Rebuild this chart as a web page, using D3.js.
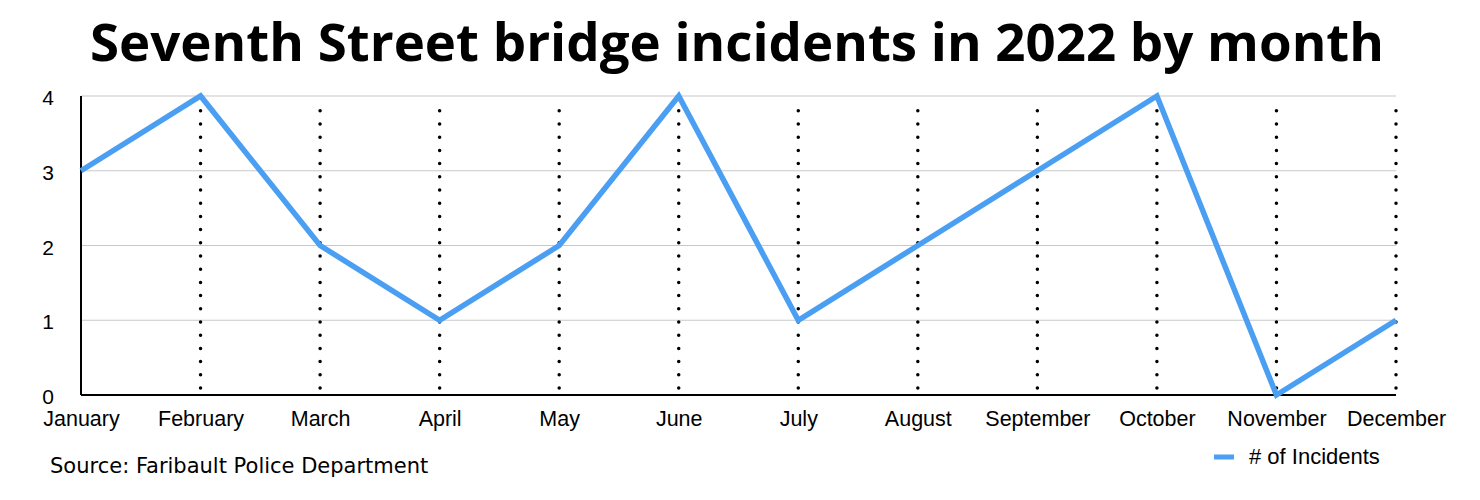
<html>
<head>
<script src="https://cdnjs.cloudflare.com/ajax/libs/d3/7.8.5/d3.min.js"></script>
  <meta charset="utf-8">
  <title>Seventh Street bridge incidents</title>
  <style>
    body { margin: 0; background: #fff; }
  </style>
</head>
<body>
	<script type="text/javascript">

		// size of the picture
		var w = 1480;
		var h = 500;
		var plotLeft = 81;
		var plotRight = 1396;
		var plotTop = 96;
		var plotBottom = 395;

		// data
		var months = ["January", "February", "March", "April", "May", "June",
			"July", "August", "September", "October", "November", "December"];
		var incidents = [3, 4, 2, 1, 2, 4, 1, 2, 3, 4, 0, 1];
		var yTicks = [0, 1, 2, 3, 4];

		var svg = d3.select("body")
					.append("svg")
					.attr("width", w)
					.attr("height", h);

		var x = d3.scalePoint()
			.domain(months)
			.range([plotLeft, plotRight]);

		var y = d3.scaleLinear()
			.domain([0, 4])
			.range([plotBottom, plotTop]);

		// title
		svg.append("text")
			.attr("x", 90)
			.attr("y", 61)
			.attr("textLength", 1294)
			.attr("lengthAdjust", "spacingAndGlyphs")
			.attr("font-family", "Open Sans, sans-serif")
			.attr("font-weight", "bold")
			.attr("font-size", "52px")
			.attr("fill", "#000")
			.text("Seventh Street bridge incidents in 2022 by month");

		// horizontal grid lines
		svg.selectAll("line.grid")
			.data(yTicks.filter(function(d) { return d > 0; }))
			.enter()
			.append("line")
			.attr("class", "grid")
			.attr("x1", plotLeft)
			.attr("x2", plotRight)
			.attr("y1", function(d) { return y(d); })
			.attr("y2", function(d) { return y(d); })
			.attr("stroke", "#c8c8c8")
			.attr("stroke-width", 1.2);

		// dotted verticals for each month after january
		svg.selectAll("line.dots")
			.data(months.slice(1))
			.enter()
			.append("line")
			.attr("class", "dots")
			.attr("x1", function(d) { return x(d); })
			.attr("x2", function(d) { return x(d); })
			.attr("y1", plotBottom - 7)
			.attr("y2", plotTop + 5)
			.attr("stroke", "#000")
			.attr("stroke-width", 3.5)
			.attr("stroke-linecap", "round")
			.attr("stroke-dasharray", "0 13.2");

		// y axis labels
		var yAxis = d3.axisLeft(y)
			.tickValues(yTicks)
			.tickFormat(d3.format("d"))
			.tickSize(0)
			.tickPadding(27);

		svg.append("g")
			.attr("transform", "translate(" + plotLeft + ",2)")
			.call(yAxis)
			.call(function(g) { g.select(".domain").remove(); })
			.selectAll("text")
			.attr("font-family", "Liberation Sans, Arial, sans-serif")
			.attr("font-size", "21px")
			.attr("fill", "#000");

		// x axis labels
		var xAxis = d3.axisBottom(x)
			.tickSize(0)
			.tickPadding(16);

		svg.append("g")
			.attr("transform", "translate(0," + plotBottom + ")")
			.call(xAxis)
			.call(function(g) { g.select(".domain").remove(); })
			.selectAll("text")
			.attr("font-family", "Liberation Sans, Arial, sans-serif")
			.attr("font-size", "21.5px")
			.attr("fill", "#000");

		// axis lines
		svg.append("line")
			.attr("x1", plotLeft)
			.attr("x2", plotLeft)
			.attr("y1", plotTop)
			.attr("y2", plotBottom)
			.attr("stroke", "#000")
			.attr("stroke-width", 2);

		svg.append("line")
			.attr("x1", plotLeft)
			.attr("x2", plotRight)
			.attr("y1", plotBottom)
			.attr("y2", plotBottom)
			.attr("stroke", "#000")
			.attr("stroke-width", 2);

		// the series
		var line = d3.line()
			.x(function(d, i) { return x(months[i]); })
			.y(function(d) { return y(d); });

		svg.append("path")
			.datum(incidents)
			.attr("d", line)
			.attr("fill", "none")
			.attr("stroke", "#4a9ff2")
			.attr("stroke-width", 5.5)
			.attr("stroke-linejoin", "miter");

		// source note
		svg.append("text")
			.attr("x", 50)
			.attr("y", 473)
			.attr("font-family", "DejaVu Sans, sans-serif")
			.attr("font-size", "21px")
			.attr("fill", "#000")
			.text("Source: Faribault Police Department");

		// legend
		svg.append("line")
			.attr("x1", 1214)
			.attr("x2", 1234)
			.attr("y1", 457)
			.attr("y2", 457)
			.attr("stroke", "#4a9ff2")
			.attr("stroke-width", 5);

		svg.append("text")
			.attr("x", 1249)
			.attr("y", 464)
			.attr("font-family", "Liberation Sans, Arial, sans-serif")
			.attr("font-size", "22px")
			.attr("fill", "#000")
			.text("# of Incidents");
	</script>
</body>
</html>
